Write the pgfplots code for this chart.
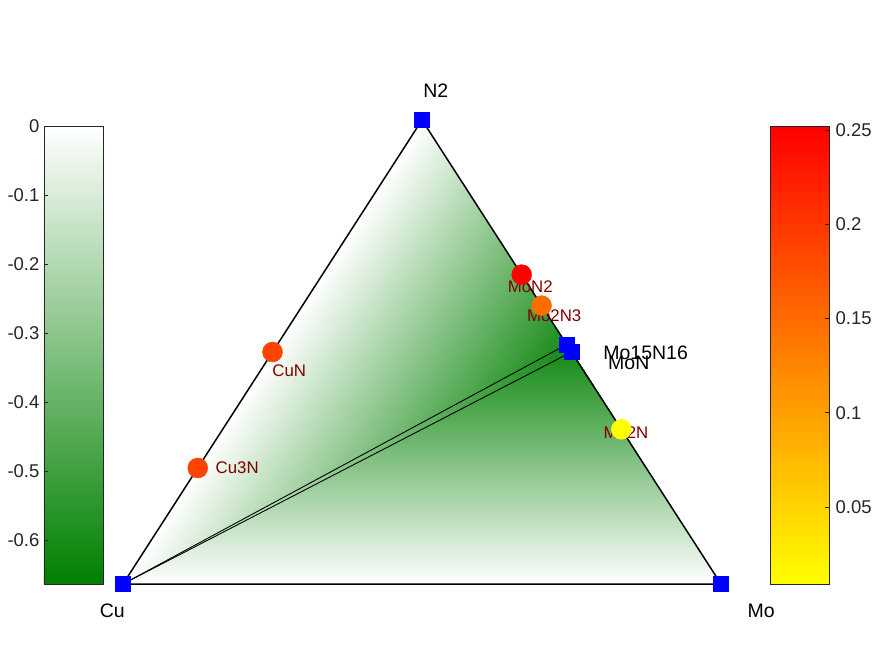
\documentclass[border=0pt]{standalone}
\usepackage{pgfplots}
\pgfplotsset{compat=1.18}
\usepackage{fontspec}
\setmainfont{Liberation Sans}
\definecolor{lblred}{RGB}{128,0,0}
\definecolor{tickgray}{RGB}{38,38,38}
\begin{document}
\begin{tikzpicture}
\useasboundingbox (0pt,0pt) rectangle (875pt,656pt);
% ---------- hull facets, lines, element squares ----------
\begin{axis}[
  at={(123pt,72pt)}, anchor=south west,
  scale only axis, width=598pt, height=464pt,
  xmin=0, xmax=1, ymin=0, ymax=1,
  clip=false, hide axis,
  colormap={gw}{rgb255=(0,128,0) rgb255=(255,255,255)},
  point meta min=-0.663, point meta max=0,
  colorbar left,
  colorbar/width=59pt,
  colorbar style={
    at={(parent axis.south west)}, anchor=south east, xshift=-11.5pt,
    scale only axis, width=59pt, height=458pt,
    ytick={-0.6,-0.5,-0.4,-0.3,-0.2,-0.1,0},
    yticklabels={-0.6,-0.5,-0.4,-0.3,-0.2,-0.1,0},
    ytick pos=left, yticklabel pos=left, tick align=inside,
    major tick length=4pt,
    tick style={draw=tickgray, line width=0.7pt},
    axis line style={draw=tickgray, line width=0.8pt},
    yticklabel style={font=\fontsize{18.5}{21}\selectfont, text=tickgray, xshift=-1pt},
  },
]
\addplot[patch, patch type=triangle, shader=interp, point meta=explicit]
  table[meta=c] {
x y c
0 0 0
0.5 1 0
0.7419 0.5161 -0.60
0 0 0
0.7419 0.5161 -0.60
0.75 0.5 -0.61
0 0 0
0.75 0.5 -0.61
1 0 0
};
\addplot[black, line width=1.5pt] coordinates {(0,0) (0.5,1) (1,0) (0,0)};
\addplot[black, line width=0.9pt] coordinates {(0,0) (0.7419,0.5161)};
\addplot[black, line width=0.9pt] coordinates {(0,0) (0.75,0.5)};
\addplot[only marks, mark=square*, mark size=7.5pt, color=blue]
  coordinates {(0,0) (0.5,1) (1,0) (0.7419,0.5161) (0.75,0.5)};
\node[font=\fontsize{19.5}{23}\selectfont] at (axis cs:0.523,1.0625) {N2};
\node[font=\fontsize{19.5}{23}\selectfont] at (axis cs:-0.018,-0.058) {Cu};
\node[font=\fontsize{19.5}{23}\selectfont] at (axis cs:1.067,-0.058) {Mo};
\node[font=\fontsize{19.5}{23}\selectfont, anchor=west, inner sep=0pt] at (axis cs:0.803,0.498) {Mo15N16};
\node[font=\fontsize{19.5}{23}\selectfont, anchor=west, inner sep=0pt] at (axis cs:0.811,0.476) {MoN};
\end{axis}
% ---------- unstable compounds ----------
\begin{axis}[
  at={(123pt,72pt)}, anchor=south west,
  scale only axis, width=598pt, height=464pt,
  xmin=0, xmax=1, ymin=0, ymax=1,
  clip=false, hide axis,
  colormap={yr}{rgb=(1,1,0) rgb=(1,0,0)},
  point meta min=0.0091, point meta max=0.2521,
  colorbar right,
  colorbar/width=59pt,
  colorbar style={
    at={(parent axis.south east)}, anchor=south west, xshift=40.5pt,
    scale only axis, width=59pt, height=458pt,
    ytick={0.05,0.1,0.15,0.2,0.25},
    yticklabels={0.05,0.1,0.15,0.2,0.25},
    ytick pos=right, yticklabel pos=right, tick align=inside,
    major tick length=4pt,
    tick style={draw=tickgray, line width=0.7pt},
    axis line style={draw=tickgray, line width=0.8pt},
    yticklabel style={font=\fontsize{18.5}{21}\selectfont, text=tickgray, xshift=3pt},
  },
]
\addplot[scatter, only marks, mark=*, mark size=10pt,
  scatter/use mapped color={draw=mapped color, fill=mapped color},
  point meta=explicit]
  coordinates {
  (0.25,0.5) [0.185]
  (0.125,0.25) [0.187]
  (0.6667,0.6667) [0.250]
  (0.70,0.60) [0.148]
  (0.8333,0.3333) [0.010]
  };
\node[font=\fontsize{16.8}{20}\selectfont, text=lblred] at (axis cs:0.278,0.459) {CuN};
\node[font=\fontsize{16.8}{20}\selectfont, text=lblred] at (axis cs:0.191,0.25) {Cu3N};
\node[font=\fontsize{16.8}{20}\selectfont, text=lblred] at (axis cs:0.681,0.640) {MoN2};
\node[font=\fontsize{16.8}{20}\selectfont, text=lblred] at (axis cs:0.721,0.578) {Mo2N3};
\node[font=\fontsize{16.8}{20}\selectfont, text=lblred] at (axis cs:0.841,0.325) {Mo2N};
\end{axis}
\end{tikzpicture}
\end{document}
